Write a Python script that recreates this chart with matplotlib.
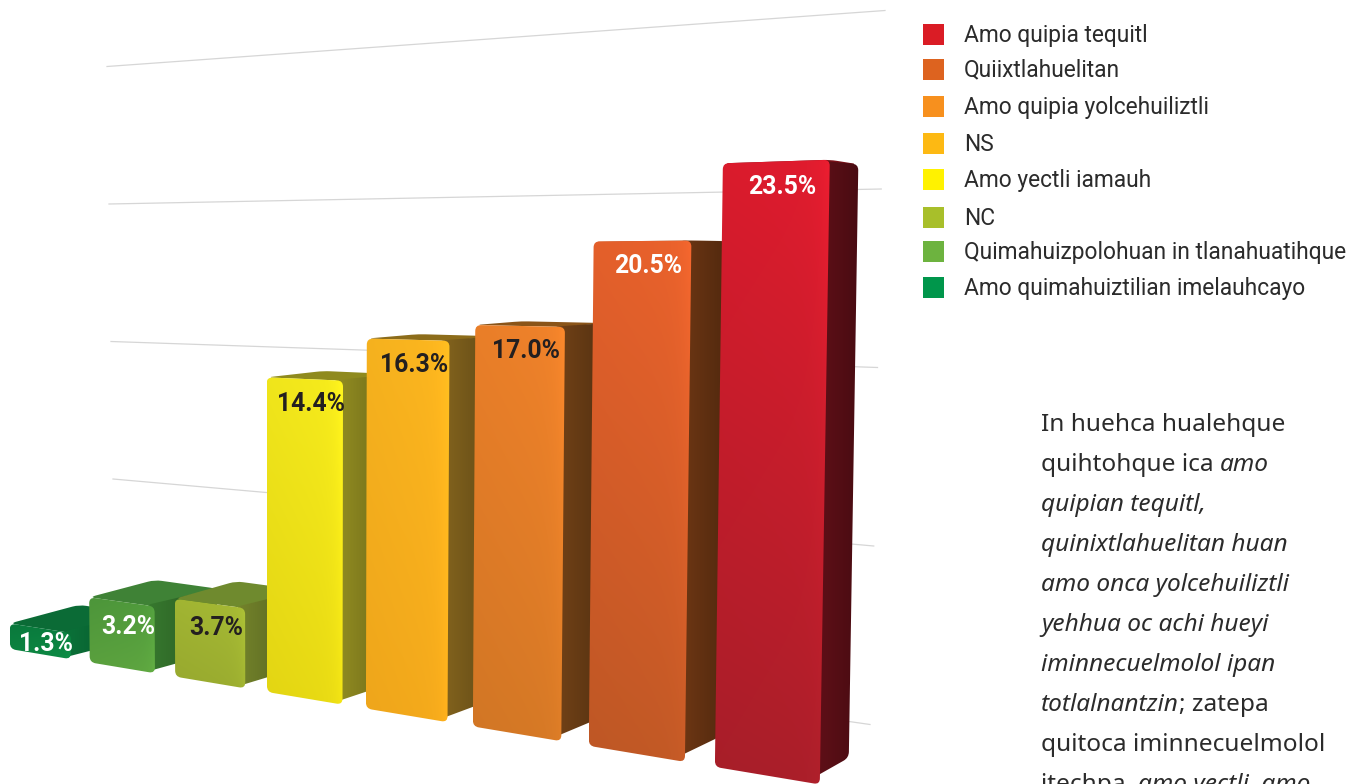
import numpy as np
import matplotlib
matplotlib.use("Agg")
import matplotlib.pyplot as plt
from matplotlib.colors import to_rgb
from matplotlib.patches import PathPatch, Rectangle
from matplotlib.path import Path

# data, same order as the bars left to right
categories = ["Amo quimahuiztilian imelauhcayo", "Quimahuizpolohuan in tlanahuatihque",
              "NC", "Amo yectli iamauh", "NS", "Amo quipia yolcehuiliztli",
              "Quiixtlahuelitan", "Amo quipia tequitl"]
values = [1.3, 3.2, 3.7, 14.4, 16.3, 17.0, 20.5, 23.5]
grid_values = [5, 10, 15, 20, 25]

legend_colors = ["#00964b", "#6db33f", "#a8bf2a", "#fff200", "#fdb913", "#f7901e", "#dd631f", "#da1c25"]
front_top = ["#0a7c3e", "#4f9a3c", "#a6ba34", "#f7ec1c", "#fdb71f", "#f0822a", "#ea622c", "#e01c2e"]
front_bottom = ["#0d8a44", "#5ea640", "#9cae30", "#eadc14", "#f6ab1c", "#d87a26", "#c45a26", "#ac1f2a"]
top_color = ["#0b6b36", "#3f8236", "#6f8a2e", "#8f8a1e", "#8c6c1a", "#8a5418", "#7a3c14", "#7a1018"]
side_color = ["#0a6a35", "#33702b", "#6b7a28", "#8a8520", "#7c5e1c", "#6d3f16", "#6a3513", "#5e0f17"]
label_color = ["white", "white", "#231f20", "#231f20", "#231f20", "#231f20", "white", "white"]

para = [[("In huehca hualehque", False)],
        [("quihtohque ica ", False), ("amo", True)],
        [("quipian tequitl,", True)],
        [("quinixtlahuelitan huan", True)],
        [("amo onca yolcehuiliztli", True)],
        [("yehhua oc achi hueyi", True)],
        [("iminnecuelmolol ipan", True)],
        [("totlalnantzin", True), ("; zatepa", False)],
        [("quitoca iminnecuelmolol", False)],
        [("itechpa, ", False), ("amo yectli, amo", True)]]

fig = plt.figure(figsize=(13.56, 7.84), dpi=100)
ax = fig.add_axes([0, 0, 1, 1])
ax.set_axis_off()
ax.set_xlim(0, 1356)
ax.set_ylim(784, 0)
ax.set_autoscale_on(False)
bar_w = 0.77


# perspective of the bars plane: slot position u, value v -> pixels
def project(u, v):
    den = 1 - 0.03357 * u
    x = (76.7 * u + 10) / den
    y = (649 - 8.9 * u - 19.65 * v) / den
    x = x + 0.00082 * (x - 300) * v
    return np.array([x, y])


# push a front point back along the depth of the bar
def back(p):
    return p + 0.05 * (np.array([1400, 250]) - p)


def rounded(points, r):
    verts, codes = [], []
    n = len(points)
    for k in range(n):
        p = np.array(points[k], float)
        prev = np.array(points[k - 1], float)
        nxt = np.array(points[(k + 1) % n], float)
        a = p + (prev - p) * min(r / np.linalg.norm(prev - p), 0.45)
        b = p + (nxt - p) * min(r / np.linalg.norm(nxt - p), 0.45)
        verts.append(a)
        codes.append(Path.MOVETO if k == 0 else Path.LINETO)
        verts += [p, b]
        codes += [Path.CURVE3, Path.CURVE3]
    verts.append(verts[0])
    codes.append(Path.CLOSEPOLY)
    return Path(verts, codes)


def shade(path, grad, z):
    xs, ys = path.vertices[:, 0], path.vertices[:, 1]
    im = ax.imshow(np.clip(grad, 0, 1), extent=[xs.min(), xs.max(), ys.max(), ys.min()],
                   aspect="auto", interpolation="bilinear", zorder=z)
    im.set_clip_path(PathPatch(path, transform=ax.transData))


# lines of the back wall
for v in grid_values:
    x0 = 107 + 0.4 * (25 - v)
    x1 = 870 + 0.75 * (v - 5)
    ax.plot([x0, x1], [754 - 27.5 * v, 903 - 35.7 * v], color="#d6d6d6", lw=0.9, zorder=1)

# bars
for i, v in enumerate(values):
    tl, tr = project(i, v), project(i + bar_w, v)
    bl, br = project(i, 0), project(i + bar_w, 0)
    z = 2 + i

    # top face and side, then the front over them
    top = rounded([tl, tr, back(tr), back(tl)], 7)
    ax.add_patch(PathPatch(top, fc=top_color[i], ec="none", zorder=z))

    # the side starts a bit under the front so the rounded corners leave no gap
    side = rounded([project(i + bar_w - 0.1, v), back(tr), back(br), project(i + bar_w - 0.1, 0)], 6)
    s = np.linspace(1.08, 0.78, 24)[None, :, None]
    shade(side, np.array(to_rgb(side_color[i]))[None, None, :] * s, z + 0.1)

    front = rounded([tl, tr, br, bl], 6)
    t = np.linspace(0, 1, 32)[:, None, None]
    g = np.array(to_rgb(front_top[i]))[None, None, :] * (1 - t) + np.array(to_rgb(front_bottom[i]))[None, None, :] * t
    h = np.linspace(0, 1, 32)[None, :, None]
    shade(front, g * (0.97 + 0.03 * h + 0.05 * h ** 10), z + 0.2)

    # value label
    lx, ly = (tl + tr) / 2
    ly += 16 if i == 0 else 25
    ax.text(lx + 6, ly, f"{v:.1f}%", color=label_color[i], fontsize=17.8, fontweight="bold",
            family="Roboto", ha="center", va="center", zorder=20)

# legend, top entry is the last bar
legend_y = [34, 69, 106, 143, 179, 217, 251, 287]
for k, y in enumerate(legend_y):
    j = len(categories) - 1 - k
    ax.add_patch(Rectangle((923, y - 10.5), 21, 21, fc=legend_colors[j], ec="none", zorder=20))
    ax.text(964, y + 1, categories[j], color="#2b2b2b", fontsize=16.4, family="Roboto",
            va="center", ha="left", zorder=20)

# paragraph beside the chart, the last line is cut by the page
renderer = fig.canvas.get_renderer()
for n, runs in enumerate(para):
    x = 1041
    for txt, it in runs:
        t = ax.text(x, 425 + 40 * n, txt, color="#2b2b2b", fontsize=17.6, family="Noto Sans",
                    style="italic" if it else "normal", va="center", ha="left", zorder=20)
        x = t.get_window_extent(renderer).x1

fig.savefig("out.png", dpi=100, facecolor="white")
